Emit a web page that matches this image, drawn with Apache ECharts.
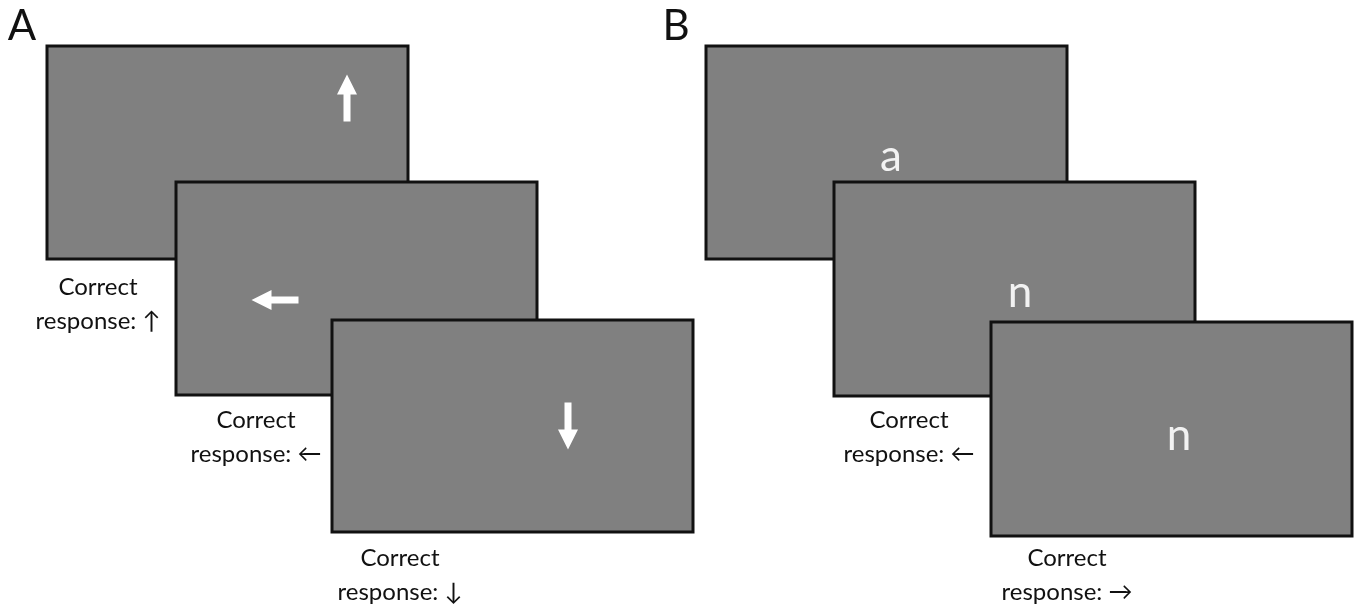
<!DOCTYPE html>
<html>
<head>
<meta charset="utf-8">
<script src="https://cdn.jsdelivr.net/npm/echarts@6/dist/echarts.min.js"></script>
<style>
  html, body { margin: 0; padding: 0; background: #fff; }
  #main { width: 1360px; height: 612px; }
</style>
</head>
<body>
<div id="main"></div>
<script>
// screens: [left, top, right, bottom] in page units
const screens = [
  [47, 46, 408, 259],
  [176, 182, 537, 395],
  [332, 320, 693, 532],
  [706, 46, 1067, 259],
  [834, 182, 1195, 396],
  [991, 322, 1352, 536]
];
// arrow stimuli: [x, y, direction]
const arrows = [
  [347, 98, 'up'],
  [275, 300, 'left'],
  [568, 426, 'down']
];
// letter stimuli: [x, y, letter]
const letters = [
  [891, 157, 'a'],
  [1020, 293, 'n'],
  [1179, 436, 'n']
];
// captions: [x, y, text]
const captions = [
  [98, 304, 'Correct\nresponse: ↑'],
  [256, 437, 'Correct\nresponse: ←'],
  [400, 575, 'Correct\nresponse: ↓'],
  [909, 437, 'Correct\nresponse: ←'],
  [1067, 575, 'Correct\nresponse: →']
];
// panel tags
const panels = [
  [22, 26, 'A'],
  [676, 26, 'B']
];

const FONT = 'Lato, "Open Sans", sans-serif';

// arrow outline for pointing up, centred on 0,0
function arrowPoints(dir) {
  const len = 47, headLen = 20, headW = 10, shaftW = 3.5;
  const h = len / 2;
  let pts = [
    [0, -h], [headW, -h + headLen], [shaftW, -h + headLen],
    [shaftW, h], [-shaftW, h], [-shaftW, -h + headLen], [-headW, -h + headLen]
  ];
  const rot = { up: p => p, down: p => [p[0], -p[1]], left: p => [p[1], p[0]], right: p => [-p[1], p[0]] }[dir];
  return pts.map(rot);
}

function textSeries(data, font, color) {
  return {
    type: 'custom',
    coordinateSystem: 'cartesian2d',
    data: data,
    silent: true,
    renderItem: function (params, api) {
      const p = api.coord([api.value(0), api.value(1)]);
      return {
        type: 'text',
        style: {
          x: p[0], y: p[1],
          text: data[params.dataIndex][2],
          font: font,
          fill: color,
          align: 'center',
          verticalAlign: 'middle',
          lineHeight: 34
        }
      };
    }
  };
}

const chart = echarts.init(document.getElementById('main'));
chart.setOption({
  animation: false,
  backgroundColor: '#ffffff',
  grid: { left: 0, right: 0, top: 0, bottom: 0 },
  xAxis: { type: 'value', min: 0, max: 1360, show: false },
  yAxis: { type: 'value', min: 0, max: 612, inverse: true, show: false },
  series: [
    {
      type: 'custom',
      coordinateSystem: 'cartesian2d',
      data: screens,
      silent: true,
      renderItem: function (params, api) {
        const a = api.coord([api.value(0), api.value(1)]);
        const b = api.coord([api.value(2), api.value(3)]);
        return {
          type: 'rect',
          shape: { x: a[0], y: a[1], width: b[0] - a[0], height: b[1] - a[1] },
          style: { fill: '#808080', stroke: '#111', lineWidth: 3 }
        };
      }
    },
    {
      type: 'custom',
      coordinateSystem: 'cartesian2d',
      data: arrows,
      silent: true,
      renderItem: function (params, api) {
        const c = api.coord([api.value(0), api.value(1)]);
        const pts = arrowPoints(arrows[params.dataIndex][2]).map(p => [c[0] + p[0], c[1] + p[1]]);
        return {
          type: 'polygon',
          shape: { points: pts },
          style: { fill: '#ffffff' }
        };
      }
    },
    textSeries(letters, '44px ' + FONT, '#f2f2f2'),
    textSeries(captions, '24px ' + FONT, '#111'),
    textSeries(panels, '42px ' + FONT, '#111')
  ]
});
window.addEventListener('resize', function () { chart.resize(); });
</script>
</body>
</html>
